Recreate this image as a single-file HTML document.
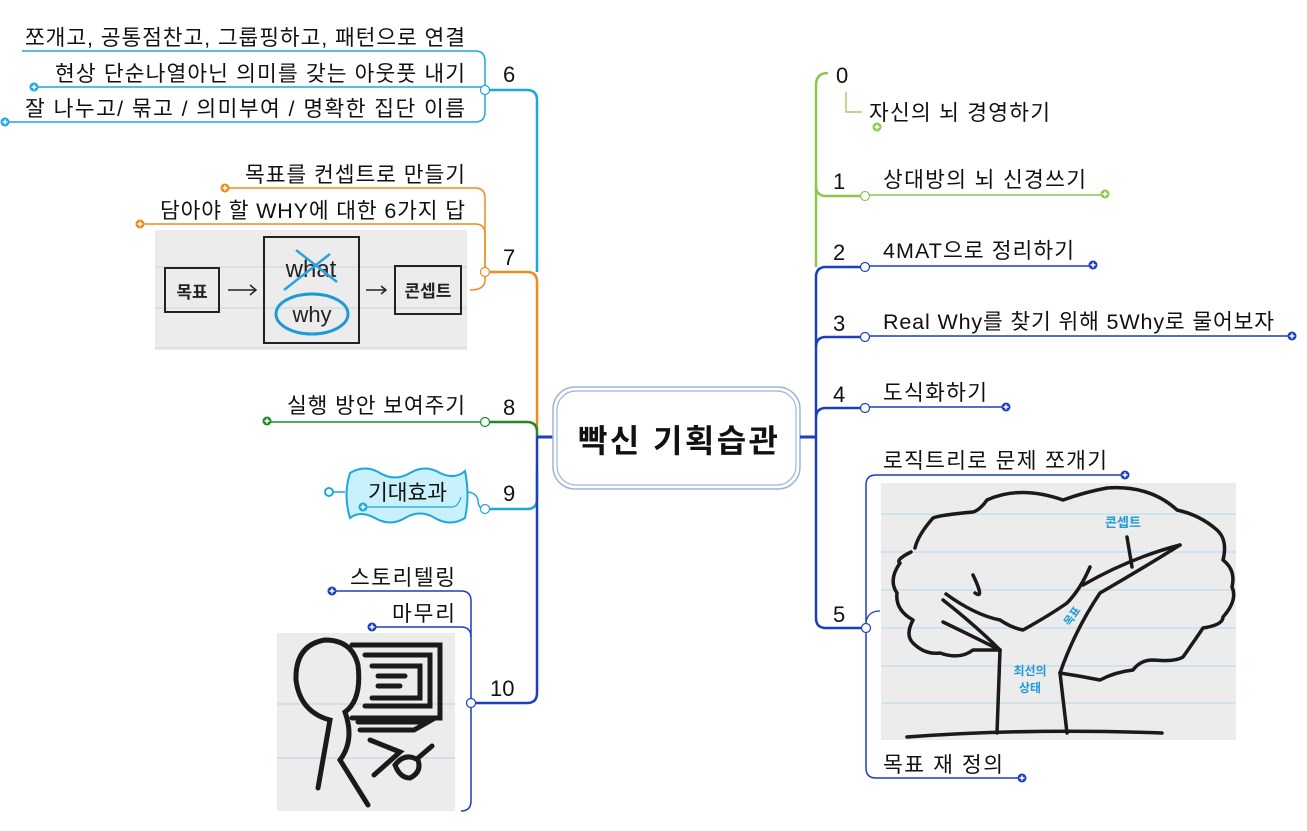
<!DOCTYPE html>
<html><head><meta charset="utf-8"><style>
html,body{margin:0;padding:0;background:#fff;}
svg{display:block;font-family:"Liberation Sans","Noto Sans CJK KR",sans-serif;}
.t{font-size:21.5px;fill:#111;}
.n{font-size:22px;fill:#111;}
</style></head><body>
<svg width="1307" height="831" viewBox="0 0 1307 831" xmlns="http://www.w3.org/2000/svg">
<defs>
<g id="pc"><circle r="4.5" fill="currentColor"/><path d="M-2.5 0H2.5M0 -2.5V2.5" stroke="#fff" stroke-width="1.5"/></g>
</defs>

<!-- ===== Left trunk ===== -->
<path d="M485 90 H527 Q537 90 537 100 V272" fill="none" stroke="#1ea6dd" stroke-width="2.5"/>
<path d="M485 272 H527 Q537 272 537 282 V430" fill="none" stroke="#f08a1c" stroke-width="2.5"/>
<path d="M485 422 H527 Q537 422 537 432 V437" fill="none" stroke="#1e8a2a" stroke-width="2.5"/>
<path d="M485 509 H527 Q537 509 537 499 V470" fill="none" stroke="#1ea6dd" stroke-width="2.5"/>
<path d="M537 437 V693 Q537 703 527 703 H471" fill="none" stroke="#1c3fc0" stroke-width="2.5"/>
<path d="M537 437 H553" stroke="#1c3fc0" stroke-width="3"/>

<!-- branch 6 -->
<g fill="none" stroke="#1ea6dd" stroke-width="1.5">
<path d="M22 51 H475 Q485 51 485 61 V112 Q485 122 475 122 H5"/>
<path d="M485 87 H34"/>
</g>
<circle cx="485" cy="90" r="4.5" fill="#fff" stroke="#1ea6dd" stroke-width="1.2"/>
<use href="#pc" x="34" y="87" style="color:#1ea6dd"/>
<use href="#pc" x="5" y="122" style="color:#1ea6dd"/>
<text class="n" x="503" y="82">6</text>
<text class="t" x="25" y="45" textLength="440" lengthAdjust="spacing">쪼개고, 공통점찬고, 그룹핑하고, 패턴으로 연결</text>
<text class="t" x="55" y="81" textLength="410" lengthAdjust="spacing">현상 단순나열아닌 의미를 갖는 아웃풋 내기</text>
<text class="t" x="25" y="116" textLength="440" lengthAdjust="spacing">잘 나누고/ 묶고 / 의미부여 / 명확한 집단 이름</text>

<!-- branch 7 -->
<g fill="none" stroke="#f08a1c" stroke-width="1.5">
<path d="M225 188 H475 Q485 188 485 198 V272"/>
<path d="M140 224 H475 Q485 224 485 234 V280 Q485 290 470 290"/>
</g>
<circle cx="485" cy="272" r="4.5" fill="#fff" stroke="#f08a1c" stroke-width="1.2"/>
<use href="#pc" x="225" y="188" style="color:#f08a1c"/>
<use href="#pc" x="140" y="224" style="color:#f08a1c"/>
<text class="n" x="503" y="265">7</text>
<text class="t" x="245" y="182" textLength="220" lengthAdjust="spacing">목표를 컨셉트로 만들기</text>
<text class="t" x="160" y="218" textLength="305" lengthAdjust="spacing">담아야 할 WHY에 대한 6가지 답</text>
<g>
<rect x="155" y="230" width="312" height="120" fill="#ececec"/>
<g stroke="#c9d3dc" stroke-width="1"><path d="M155 267H467M155 308H467M155 348H467"/></g>
<rect x="165" y="268" width="54" height="44" fill="none" stroke="#222" stroke-width="2"/>
<text x="192" y="298" text-anchor="middle" font-size="17" font-weight="bold" fill="#222">목표</text>
<path d="M228 290H256M250 285L256 290L250 295" fill="none" stroke="#222" stroke-width="1.5"/>
<rect x="264" y="237" width="95" height="106" fill="none" stroke="#222" stroke-width="2"/>
<text x="311" y="277" text-anchor="middle" font-size="24" fill="#222">what</text>
<path d="M284 290L330 254M296 250L337 282" stroke="#2aa3dc" stroke-width="2.5"/>
<ellipse cx="312" cy="314" rx="36" ry="20" fill="none" stroke="#1e9ad6" stroke-width="3"/>
<text x="312" y="322" text-anchor="middle" font-size="22" fill="#222">why</text>
<path d="M366 290H386M381 286L386 290L381 294" fill="none" stroke="#222" stroke-width="1.5"/>
<rect x="395" y="266" width="66" height="48" fill="none" stroke="#222" stroke-width="2"/>
<text x="428" y="297" text-anchor="middle" font-size="17" font-weight="bold" fill="#222">콘셉트</text>
</g>

<!-- branch 8 -->
<path d="M485 422 H267" stroke="#1e8a2a" stroke-width="1.5"/>
<circle cx="485" cy="422" r="4.5" fill="#fff" stroke="#1e8a2a" stroke-width="1.2"/>
<use href="#pc" x="267" y="421" style="color:#1e8a2a"/>
<text class="n" x="503" y="415">8</text>
<text class="t" x="287" y="413" textLength="178" lengthAdjust="spacing">실행 방안 보여주기</text>

<!-- branch 9 -->
<path d="M485 509 Q478 509 478 500 Q476 492 466 492" fill="none" stroke="#1ea6dd" stroke-width="1.5"/>
<path d="M333 492 H345" stroke="#1ea6dd" stroke-width="1.5"/>
<circle cx="329" cy="492" r="4" fill="#fff" stroke="#1ea6dd" stroke-width="2"/>
<path d="M350 473 Q365 464 380 473 Q395 482 410 473 Q425 464 440 473 Q455 480 465 471 Q470 495 465 518 Q450 527 435 518 Q420 509 405 518 Q390 527 375 518 Q360 510 350 518 Q343 495 350 473Z" fill="#c8f1fb" stroke="#1ea6dd" stroke-width="2"/>
<path d="M363 507 H452 Q458 507 461 497" fill="none" stroke="#1ea6dd" stroke-width="1.2"/>
<use href="#pc" x="363" y="507" style="color:#1ea6dd"/>
<circle cx="485" cy="509" r="4.5" fill="#fff" stroke="#1ea6dd" stroke-width="1.2"/>
<text class="n" x="503" y="501">9</text>
<text class="t" x="368" y="500" textLength="79" lengthAdjust="spacing">기대효과</text>

<!-- branch 10 -->
<g fill="none" stroke="#1c3fc0" stroke-width="1.5">
<path d="M332 591 H461 Q471 591 471 601 V801 Q471 811 461 811"/>
<path d="M372 627 H461 Q471 627 471 637"/>
</g>
<circle cx="471" cy="703" r="4.5" fill="#fff" stroke="#1c3fc0" stroke-width="1.2"/>
<use href="#pc" x="332" y="591" style="color:#1c3fc0"/>
<use href="#pc" x="372" y="627" style="color:#1c3fc0"/>
<text class="n" x="490" y="696">10</text>
<text class="t" x="350" y="585" textLength="105" lengthAdjust="spacing">스토리텔링</text>
<text class="t" x="392" y="621" textLength="63" lengthAdjust="spacing">마무리</text>
<g>
<rect x="277" y="633" width="178" height="178" fill="#ececec"/>
<g stroke="#b8d4e6" stroke-width="1"><path d="M277 704H455M277 758H455"/></g>
<g fill="none" stroke="#1a1a1a" stroke-width="5" stroke-linecap="round">
<path d="M318 788 L330 720 Q300 712 296 680 Q295 645 325 640 Q352 640 358 665 Q362 700 345 712 Q355 740 340 760 L368 805"/>
<path d="M352 645 H440 V718 H352"/>
<path d="M365 655 H430 V706 H365"/>
<path d="M372 666 H420 V698 H372"/>
<path d="M378 676 H405 M378 686 H400"/>
<path d="M358 722 H428 L414 730 H360"/>
<path d="M370 740 L400 752 L374 775"/>
<path d="M395 765 Q405 752 418 760 Q422 772 410 778 Q400 778 395 765Z"/>
<path d="M418 758 L432 746"/>
</g>
</g>

<!-- ===== Center ===== -->
<rect x="553" y="387" width="247" height="102" rx="22" fill="#fff" stroke="#9bb6dc" stroke-width="1.5"/>
<rect x="557" y="391" width="239" height="94" rx="19" fill="#fff" stroke="#9bb6dc" stroke-width="1.2"/>
<text x="578" y="452" font-size="32" font-weight="bold" fill="#111" textLength="200" lengthAdjust="spacing">빡신 기획습관</text>

<!-- ===== Right trunk ===== -->
<path d="M800 437 H816" stroke="#1c3fc0" stroke-width="3"/>
<path d="M828 73 Q816 73 816 85 V267" fill="none" stroke="#8cc84b" stroke-width="2.5"/>
<path d="M816 186 Q816 196 826 196 H865" fill="none" stroke="#8cc84b" stroke-width="2.5"/>
<path d="M865 267 H826 Q816 267 816 277 V618 Q816 628 826 628 H866" fill="none" stroke="#1c3fc0" stroke-width="2.5"/>
<path d="M816 347 Q816 337 826 337 H865 M816 418 Q816 408 826 408 H865" fill="none" stroke="#1c3fc0" stroke-width="2.5"/>

<!-- 0 -->
<path d="M846 92 V112 H862" fill="none" stroke="#8cc84b" stroke-width="1.2"/>
<text class="n" x="836" y="83">0</text>
<text class="t" x="869" y="120" textLength="181" lengthAdjust="spacing">자신의 뇌 경영하기</text>
<use href="#pc" x="877" y="127" style="color:#8cc84b"/>
<!-- 1 -->
<path d="M865 195 H1105" stroke="#8cc84b" stroke-width="1.5"/>
<circle cx="865" cy="196" r="4.5" fill="#fff" stroke="#8cc84b" stroke-width="1.2"/>
<use href="#pc" x="1105" y="194" style="color:#8cc84b"/>
<text class="n" x="833" y="189">1</text>
<text class="t" x="883" y="187" textLength="203" lengthAdjust="spacing">상대방의 뇌 신경쓰기</text>
<!-- 2 -->
<path d="M865 266 H1093" stroke="#1c3fc0" stroke-width="1.5"/>
<circle cx="865" cy="267" r="4.5" fill="#fff" stroke="#1c3fc0" stroke-width="1.2"/>
<use href="#pc" x="1093" y="265" style="color:#1c3fc0"/>
<text class="n" x="833" y="260">2</text>
<text class="t" x="883" y="258" textLength="191" lengthAdjust="spacing">4MAT으로 정리하기</text>
<!-- 3 -->
<path d="M865 336 H1292" stroke="#1c3fc0" stroke-width="1.5"/>
<circle cx="865" cy="337" r="4.5" fill="#fff" stroke="#1c3fc0" stroke-width="1.2"/>
<use href="#pc" x="1292" y="336" style="color:#1c3fc0"/>
<text class="n" x="833" y="331">3</text>
<text class="t" x="883" y="329" textLength="391" lengthAdjust="spacing">Real Why를 찾기 위해 5Why로 물어보자</text>
<!-- 4 -->
<path d="M865 407 H1006" stroke="#1c3fc0" stroke-width="1.5"/>
<circle cx="865" cy="408" r="4.5" fill="#fff" stroke="#1c3fc0" stroke-width="1.2"/>
<use href="#pc" x="1006" y="407" style="color:#1c3fc0"/>
<text class="n" x="833" y="402">4</text>
<text class="t" x="883" y="400" textLength="104" lengthAdjust="spacing">도식화하기</text>
<!-- 5 -->
<path d="M1125 475 H876 Q866 475 866 485 V768 Q866 778 876 778 H1022" fill="none" stroke="#1c3fc0" stroke-width="1.5"/>
<path d="M866 622 Q868 611 880 611" fill="none" stroke="#1c3fc0" stroke-width="1.2"/>
<circle cx="866" cy="628" r="4.5" fill="#fff" stroke="#1c3fc0" stroke-width="1.2"/>
<use href="#pc" x="1125" y="475" style="color:#1c3fc0"/>
<use href="#pc" x="1022" y="778" style="color:#1c3fc0"/>
<text class="n" x="833" y="622">5</text>
<text class="t" x="883" y="468" textLength="224" lengthAdjust="spacing">로직트리로 문제 쪼개기</text>
<text class="t" x="883" y="772" textLength="120" lengthAdjust="spacing">목표 재 정의</text>
<g>
<rect x="881" y="483" width="355" height="257" fill="#ececec"/>
<g stroke="#b5d8ea" stroke-width="1"><path d="M881 514H1236M881 552H1236M881 590H1236M881 628H1236M881 666H1236M881 703H1236"/></g>
<g fill="none" stroke="#1a1a1a" stroke-width="3.5" stroke-linecap="round" stroke-linejoin="round">
<path d="M1060 673 Q1080 676 1100 680 Q1115 672 1133 670 Q1140 660 1153 660 Q1175 662 1183 657 Q1195 640 1203 628 Q1223 625 1223 617 Q1238 600 1232 587 Q1236 570 1223 560 Q1228 540 1217 530 Q1200 515 1177 510 Q1150 485 1107 488 Q1085 492 1063 500 Q1020 485 987 500 Q980 510 973 512 Q940 515 933 518 Q918 535 915 548"/>
<path d="M911 552 Q895 560 900 563 Q888 580 897 593 Q895 610 913 620 Q905 635 913 643 Q925 655 940 653 Q960 660 973 650 Q990 650 1000 650"/>
<path d="M1000 650 L997 733"/>
<path d="M1060 673 L1067 733"/>
<path d="M1000 650 Q975 625 943 600"/>
<path d="M1000 650 Q970 635 943 622"/>
<path d="M946 594 Q975 615 1000 620 Q1012 628 1023 630 Q1050 615 1067 603 Q1080 590 1090 567"/>
<path d="M1060 673 Q1075 630 1100 593 Q1140 570 1180 545"/>
<path d="M1083 585 Q1130 558 1180 545"/>
<path d="M1127 537 L1132 567"/>
<path d="M975 593 Q985 600 973 575"/>
<path d="M907 737 Q1030 728 1162 733"/>
</g>
<text x="1123" y="527" font-size="13" font-weight="bold" fill="#1e9ad6" text-anchor="middle">콘셉트</text>
<text x="1072" y="620" font-size="11" font-weight="bold" fill="#1e9ad6" text-anchor="middle" transform="rotate(-55 1072 616)">목표</text>
<text x="1030" y="675" font-size="12" font-weight="bold" fill="#1e9ad6" text-anchor="middle">최선의</text>
<text x="1030" y="692" font-size="12" font-weight="bold" fill="#1e9ad6" text-anchor="middle">상태</text>
</g>
</svg>
</body></html>
